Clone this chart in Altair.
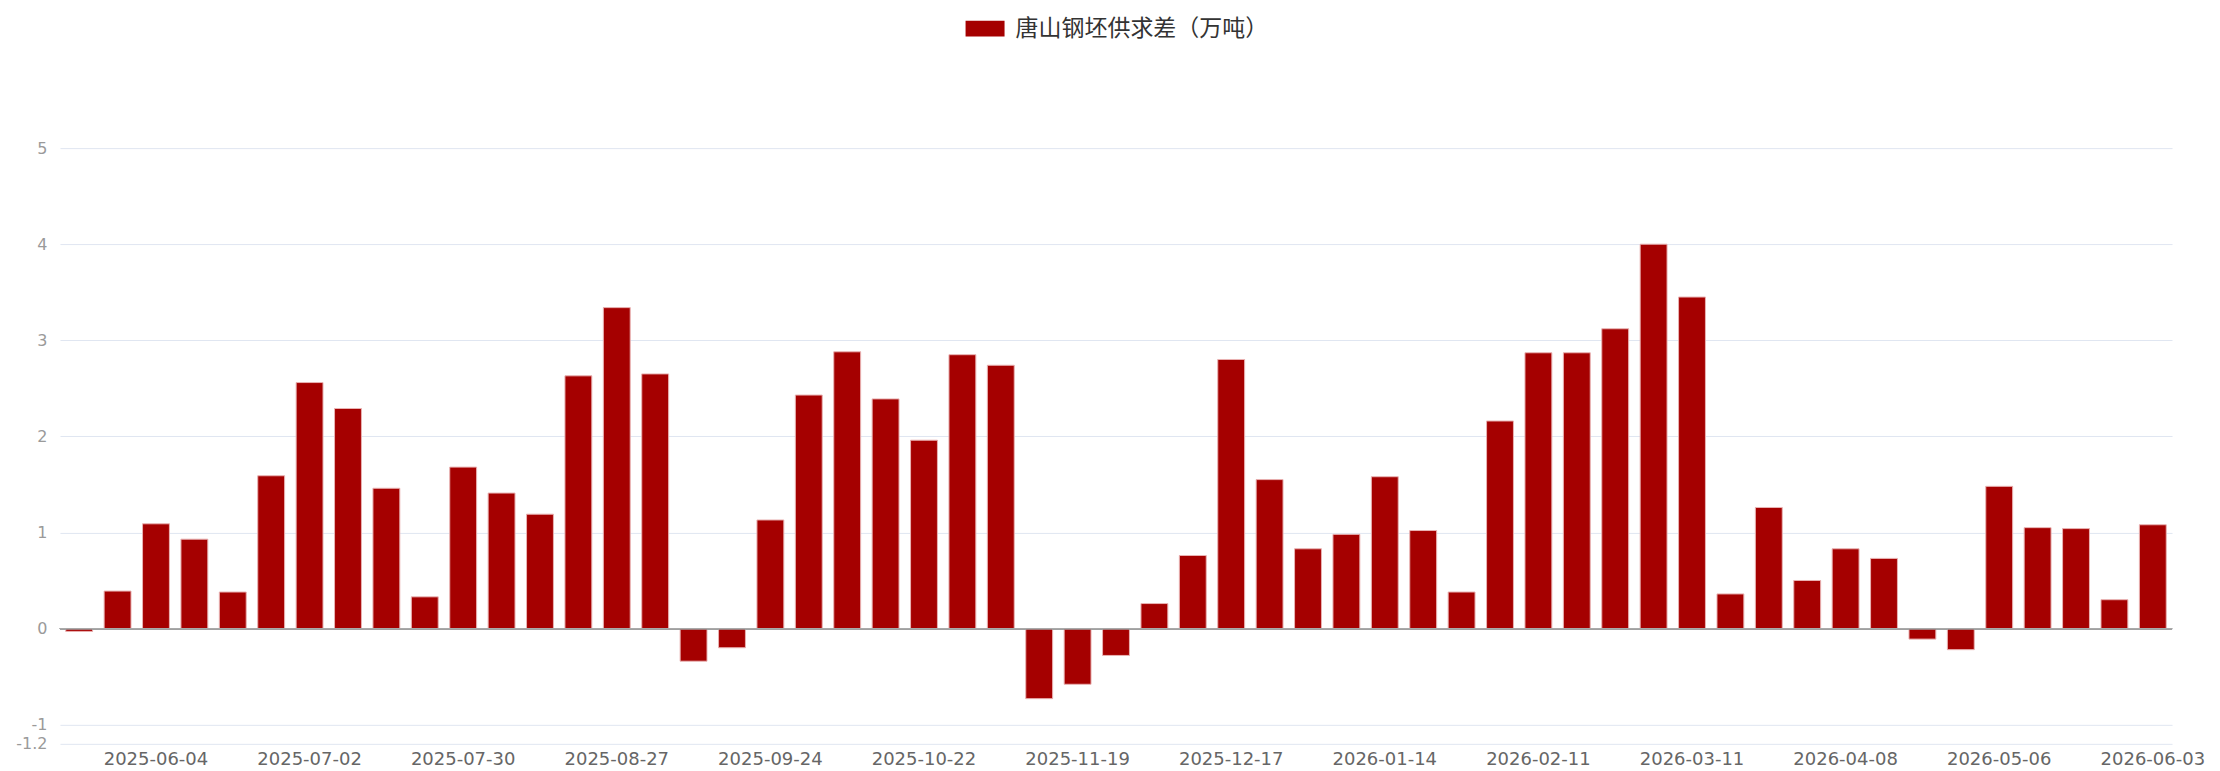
import altair as alt
import pandas as pd

series_name = "唐山钢坯供求差（万吨）"

dates = [d.strftime("%Y-%m-%d") for d in pd.date_range("2025-05-21", periods=55, freq="7D")]

values = [
    -0.03, 0.39, 1.09, 0.93, 0.38, 1.59, 2.56, 2.29, 1.46, 0.33,
    1.68, 1.41, 1.19, 2.63, 3.34, 2.65, -0.34, -0.20, 1.13, 2.43,
    2.88, 2.39, 1.96, 2.85, 2.74, -0.73, -0.58, -0.28, 0.26, 0.76,
    2.80, 1.55, 0.83, 0.98, 1.58, 1.02, 0.38, 2.16, 2.87, 2.87,
    3.12, 4.00, 3.45, 0.36, 1.26, 0.50, 0.83, 0.73, -0.11, -0.22,
    1.48, 1.05, 1.04, 0.30, 1.08,
]

tick_dates = dates[2::4]
y_ticks = [-1.2, -1, 0, 1, 2, 3, 4, 5]

df = pd.DataFrame({"date": dates, "value": values, "series": series_name})

bars = alt.Chart(df).mark_bar(stroke="#e9b3b3", strokeWidth=1).encode(
    x=alt.X(
        "date:O",
        sort=dates,
        title=None,
        scale=alt.Scale(paddingInner=0.3, paddingOuter=0.15),
        axis=alt.Axis(
            values=tick_dates,
            labelAngle=0,
            labelFont="DejaVu Sans",
            labelFontSize=18,
            labelColor="#666666",
            labelPadding=7,
            labelOverlap=False,
            labelFlush=False,
            ticks=False,
            domain=False,
            grid=False,
        ),
    ),
    y=alt.Y(
        "value:Q",
        title=None,
        scale=alt.Scale(domain=[-1.2, 5], nice=False, zero=False),
        axis=alt.Axis(
            values=y_ticks,
            labelExpr="'' + datum.value",
            labelFont="DejaVu Sans",
            labelFontSize=16,
            labelColor="#9a9a9a",
            labelPadding=13,
            labelOverlap=False,
            labelFlush=False,
            ticks=False,
            domain=False,
            grid=True,
            gridColor="#e0e6f1",
            gridWidth=1,
        ),
    ),
    color=alt.Color(
        "series:N",
        scale=alt.Scale(range=["#a50000"]),
        legend=alt.Legend(
            title=None,
            orient="none",
            legendX=906,
            legendY=-139,
            symbolType="M-1,-0.4H1V0.4H-1Z",
            symbolSize=1521,
            symbolStrokeWidth=0,
            labelFont="Noto Sans CJK SC",
            labelFontSize=23,
            labelColor="#333333",
            labelOffset=11,
            labelLimit=0,
            padding=0,
        ),
    ),
)

zero_line = alt.Chart(df).mark_rule(color="#aaaaaa", strokeWidth=1).encode(
    y=alt.datum(0)
)

chart = alt.layer(bars, zero_line).properties(
    width=2113,
    height=596,
    autosize=alt.AutoSizeParams(type="none"),
    padding={"left": 52, "top": 140, "right": 40, "bottom": 30},
).configure_view(stroke=None)

chart.save("out.html", embed_options={"renderer": "svg", "actions": False})
